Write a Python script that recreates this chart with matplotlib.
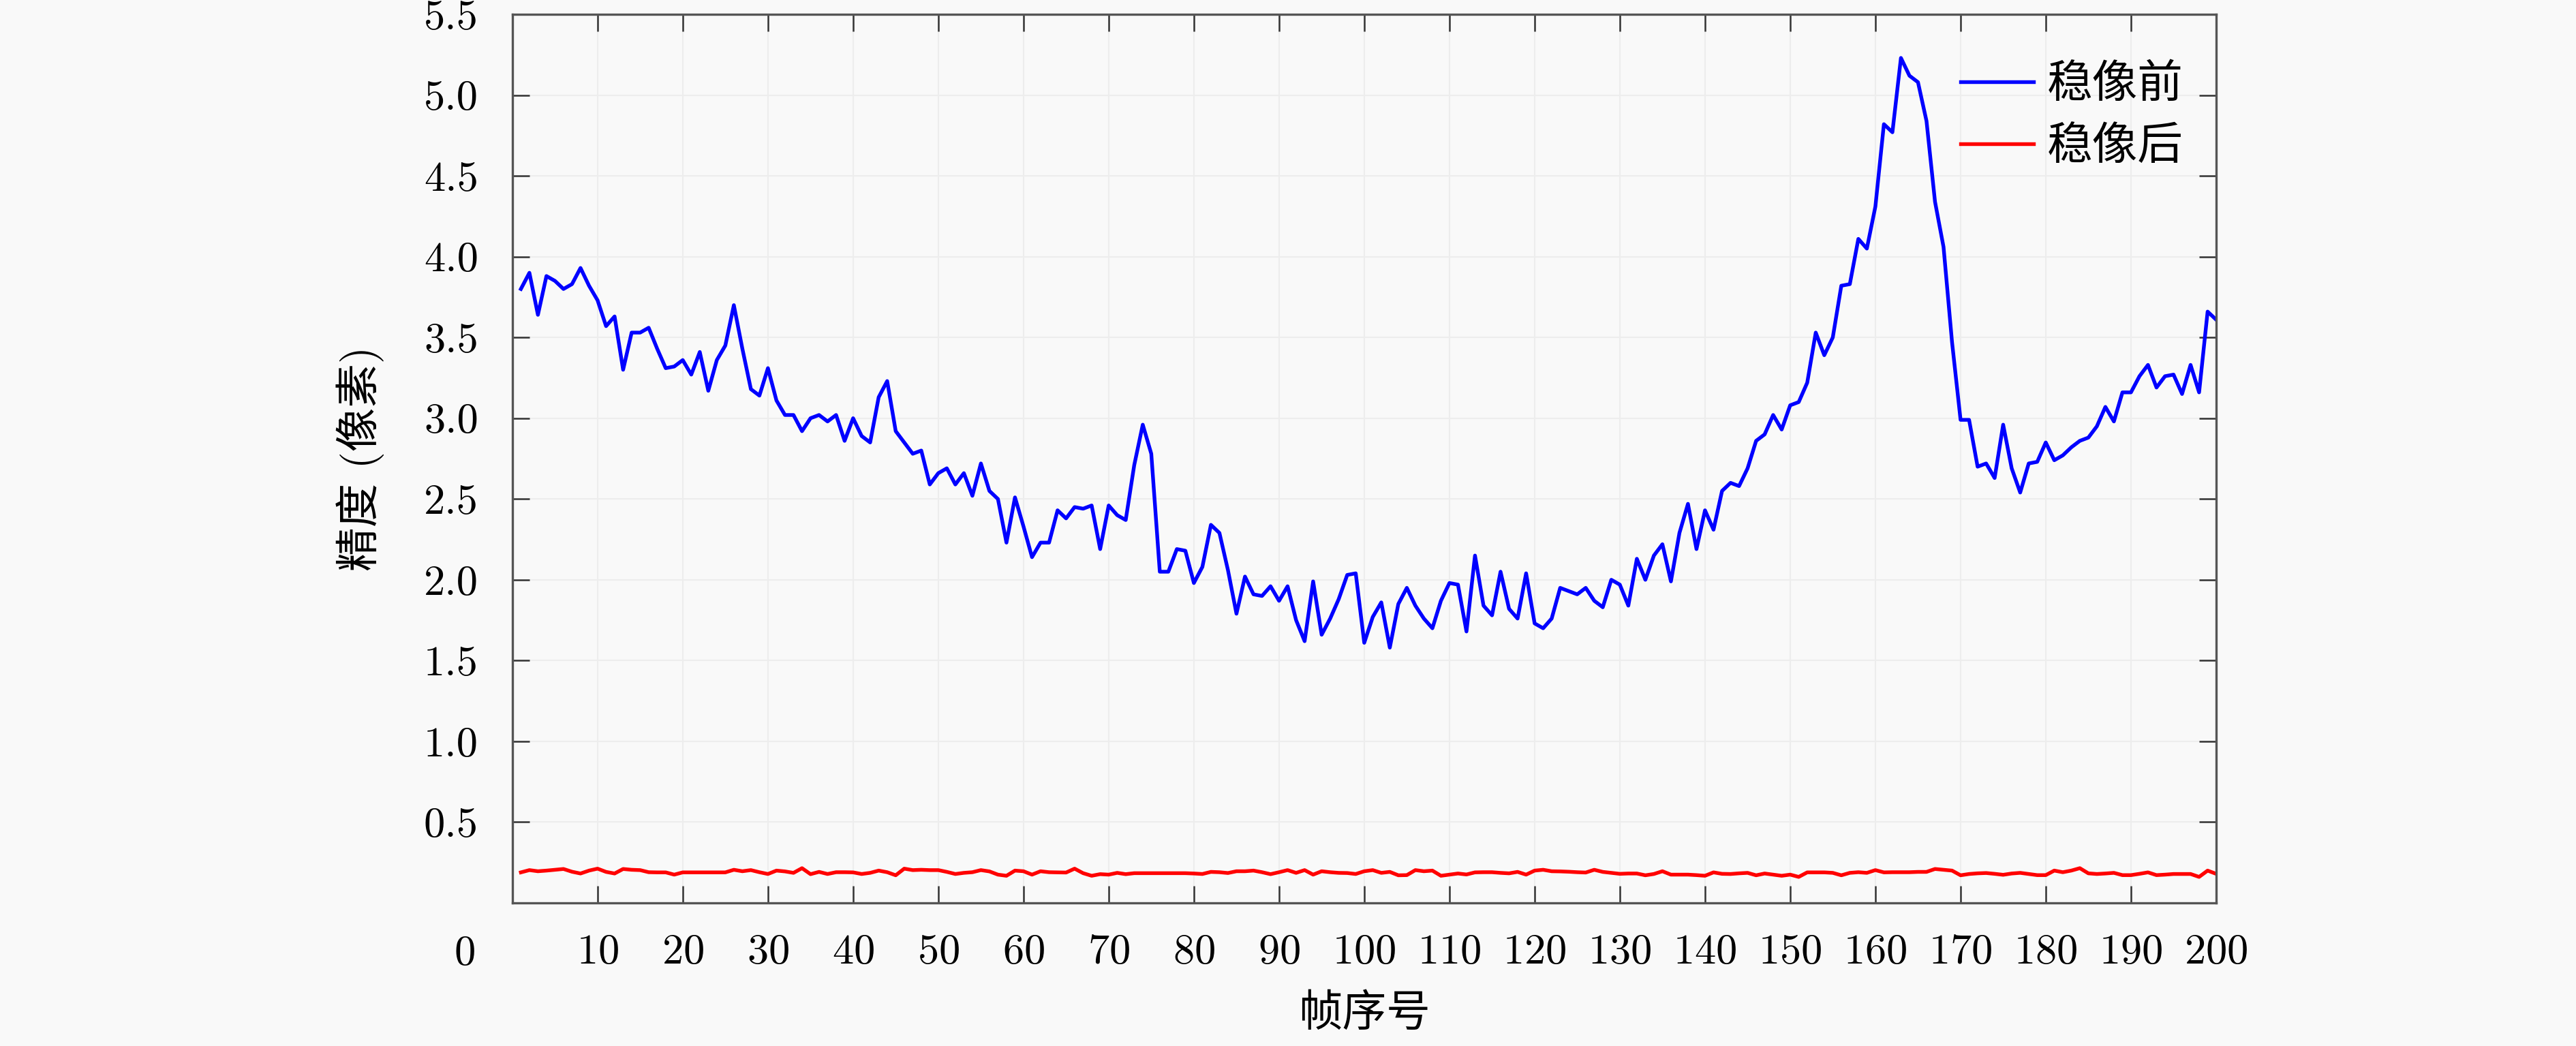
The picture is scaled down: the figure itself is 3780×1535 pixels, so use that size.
import matplotlib
matplotlib.use("Agg")
import matplotlib.pyplot as plt
import numpy as np

# frame index
frames = list(range(1, 201))

# accuracy before stabilisation (pixels)
before = [
    3.80, 3.90, 3.64, 3.88, 3.85, 3.80, 3.83, 3.93, 3.82, 3.73,
    3.57, 3.63, 3.30, 3.53, 3.53, 3.56, 3.43, 3.31, 3.32, 3.36,
    3.27, 3.41, 3.17, 3.36, 3.45, 3.70, 3.43, 3.18, 3.14, 3.31,
    3.11, 3.02, 3.02, 2.92, 3.00, 3.02, 2.98, 3.02, 2.86, 3.00,
    2.89, 2.85, 3.13, 3.23, 2.92, 2.85, 2.78, 2.80, 2.59, 2.66,
    2.69, 2.59, 2.66, 2.52, 2.72, 2.55, 2.50, 2.23, 2.51, 2.33,
    2.14, 2.23, 2.23, 2.43, 2.38, 2.45, 2.44, 2.46, 2.19, 2.46,
    2.40, 2.37, 2.71, 2.96, 2.78, 2.05, 2.05, 2.19, 2.18, 1.98,
    2.08, 2.34, 2.29, 2.06, 1.79, 2.02, 1.91, 1.90, 1.96, 1.87,
    1.96, 1.75, 1.62, 1.99, 1.66, 1.76, 1.88, 2.03, 2.04, 1.61,
    1.77, 1.86, 1.58, 1.85, 1.95, 1.84, 1.76, 1.70, 1.87, 1.98,
    1.97, 1.68, 2.15, 1.84, 1.78, 2.05, 1.82, 1.76, 2.04, 1.73,
    1.70, 1.76, 1.95, 1.93, 1.91, 1.95, 1.87, 1.83, 2.00, 1.97,
    1.84, 2.13, 2.00, 2.15, 2.22, 1.99, 2.29, 2.47, 2.19, 2.43,
    2.31, 2.55, 2.60, 2.58, 2.69, 2.86, 2.90, 3.02, 2.93, 3.08,
    3.10, 3.22, 3.53, 3.39, 3.50, 3.82, 3.83, 4.11, 4.05, 4.31,
    4.82, 4.77, 5.23, 5.12, 5.08, 4.84, 4.34, 4.06, 3.47, 2.99,
    2.99, 2.70, 2.72, 2.63, 2.96, 2.69, 2.54, 2.72, 2.73, 2.85,
    2.74, 2.77, 2.82, 2.86, 2.88, 2.95, 3.07, 2.98, 3.16, 3.16,
    3.26, 3.33, 3.19, 3.26, 3.27, 3.15, 3.33, 3.16, 3.66, 3.61,
]

# accuracy after stabilisation (pixels)
after = [
    0.189, 0.203, 0.196, 0.200, 0.205, 0.210, 0.193, 0.182, 0.200, 0.212,
    0.192, 0.182, 0.210, 0.205, 0.203, 0.190, 0.189, 0.189, 0.175, 0.189,
    0.189, 0.189, 0.189, 0.189, 0.189, 0.205, 0.196, 0.203, 0.190, 0.179,
    0.200, 0.195, 0.186, 0.215, 0.178, 0.192, 0.179, 0.190, 0.190, 0.189,
    0.179, 0.186, 0.200, 0.190, 0.171, 0.212, 0.203, 0.205, 0.203, 0.203,
    0.192, 0.179, 0.186, 0.190, 0.203, 0.195, 0.175, 0.168, 0.200, 0.196,
    0.175, 0.196, 0.190, 0.189, 0.188, 0.212, 0.184, 0.168, 0.178, 0.175,
    0.186, 0.178, 0.184, 0.184, 0.184, 0.184, 0.184, 0.184, 0.184, 0.182,
    0.179, 0.192, 0.190, 0.185, 0.196, 0.196, 0.200, 0.190, 0.178, 0.190,
    0.203, 0.186, 0.203, 0.175, 0.196, 0.190, 0.186, 0.185, 0.179, 0.196,
    0.203, 0.186, 0.192, 0.171, 0.172, 0.203, 0.196, 0.200, 0.168, 0.175,
    0.182, 0.176, 0.189, 0.190, 0.190, 0.186, 0.183, 0.192, 0.175, 0.200,
    0.205, 0.196, 0.195, 0.193, 0.190, 0.188, 0.205, 0.192, 0.186, 0.180,
    0.182, 0.182, 0.171, 0.179, 0.196, 0.175, 0.175, 0.175, 0.172, 0.168,
    0.189, 0.180, 0.179, 0.183, 0.186, 0.171, 0.182, 0.175, 0.168, 0.175,
    0.161, 0.189, 0.189, 0.189, 0.186, 0.171, 0.186, 0.190, 0.186, 0.203,
    0.189, 0.190, 0.190, 0.190, 0.192, 0.192, 0.210, 0.205, 0.200, 0.171,
    0.179, 0.183, 0.185, 0.180, 0.174, 0.182, 0.186, 0.179, 0.172, 0.172,
    0.200, 0.190, 0.200, 0.215, 0.183, 0.179, 0.182, 0.186, 0.172, 0.172,
    0.180, 0.189, 0.172, 0.175, 0.179, 0.179, 0.179, 0.161, 0.200, 0.180,
]

labels = ["稳像前", "稳像后"]
x_ticks = list(range(10, 201, 10))
y_ticks = [0.5, 1.0, 1.5, 2.0, 2.5, 3.0, 3.5, 4.0, 4.5, 5.0, 5.5]

plt.rcParams["font.family"] = ["cmr10", "Noto Sans CJK SC"]
plt.rcParams["axes.unicode_minus"] = False
plt.rcParams["axes.formatter.use_mathtext"] = True

bg = "#f9f9f9"
fig = plt.figure(figsize=(12.6, 5.1167), dpi=300, facecolor=bg)
ax = fig.add_axes([0.1989, 0.1368, 0.6614, 0.8495], facecolor=bg)

ax.plot(frames, before, color="#0000ff", lw=1.3, label=labels[0])
ax.plot(frames, after, color="#ff0000", lw=1.3, label=labels[1])

ax.set_xlim(0, 200)
ax.set_ylim(0, 5.5)
ax.set_xticks(x_ticks)
ax.set_yticks(y_ticks)
ax.set_yticklabels([f"{v:.1f}" for v in y_ticks])
ax.grid(True, color="#ededed", lw=0.5)
ax.set_axisbelow(True)

ax.tick_params(direction="in", length=6, width=0.6, color="#333333",
               labelsize=15, top=True, right=True)
ax.tick_params(axis="x", pad=11)
ax.tick_params(axis="y", pad=12)
for s in ax.spines.values():
    s.set_color("#555555")
    s.set_linewidth(0.8)

# lone "0" under the corner
ax.annotate("0", xy=(0, 0), xycoords="axes fraction", xytext=(-13, -11.5),
            textcoords="offset points", ha="right", va="top", fontsize=15)

ax.set_xlabel("帧序号", fontsize=15.5, labelpad=8)
ax.set_ylabel("精度 (像素)", fontsize=15.5, labelpad=14)

ax.legend(loc="upper right", bbox_to_anchor=(1.01, 1.0), frameon=False,
          fontsize=16, handlelength=1.6, handletextpad=0.3,
          labelspacing=0.45, borderaxespad=0.7)

fig.savefig("out.png", dpi=300, facecolor=bg)
